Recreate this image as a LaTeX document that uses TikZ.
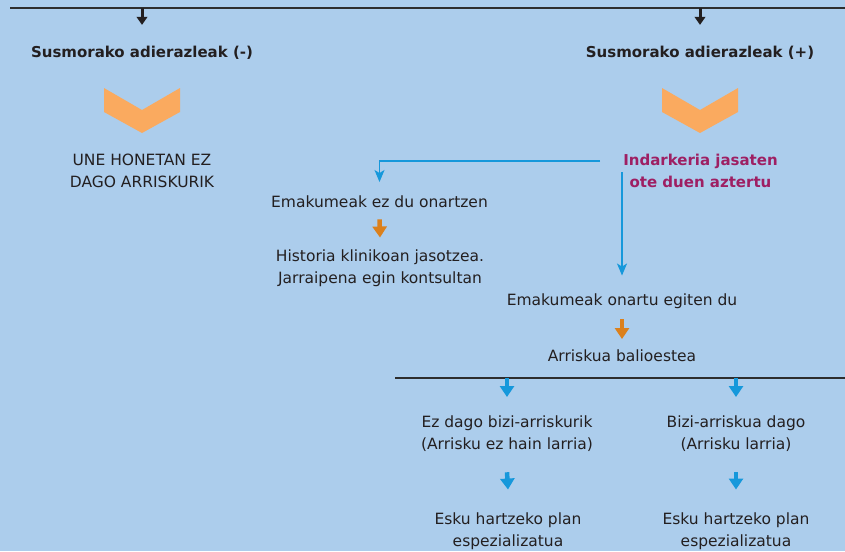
\documentclass[tikz,border=0pt]{standalone}
\usepackage{fontspec}
\setmainfont{DejaVu Sans}
\usepackage{xcolor}
\usepackage{tikz}
\usetikzlibrary{arrows.meta,positioning}

\definecolor{bgblue}{RGB}{172,205,236}
\definecolor{ink}{RGB}{35,31,32}
\definecolor{chevorange}{RGB}{250,170,95}
\definecolor{arrorange}{RGB}{219,128,28}
\definecolor{arrblue}{RGB}{22,152,219}
\definecolor{plum}{RGB}{158,31,99}
\definecolor{rulegray}{RGB}{45,45,45}

\tikzset{
  txt/.style={font=\fontsize{15.5}{22}\selectfont, text=ink, align=center, inner sep=0pt, anchor=base},
  head/.style={txt, font=\fontsize{15}{22}\selectfont\bfseries},
  ask/.style={head, text=plum},
  blk/.style={line width=4.5pt, -{Triangle[width=14pt,length=11pt]}},
  topblk/.style={draw=ink, line width=3pt, -{Triangle[width=10.5pt,length=8pt]}},
  conn/.style={draw=arrblue, line width=1.4pt, -{Stealth[width=10pt,length=12pt,inset=3pt]}},
  chev/.style={fill=chevorange},
  rulel/.style={draw=rulegray, line width=1.5pt}
}

\begin{document}
\begin{tikzpicture}[x=1pt, y=-1pt]
    \fill[bgblue] (0,0) rectangle (845,551);
    \useasboundingbox (0,0) rectangle (845,551);

    % split lines
    \coordinate (topL) at (10,8);
    \coordinate (topR) at (845,8);
    \coordinate (splitL) at (395,378);
    \coordinate (splitR) at (845,378);
    \draw[rulel] (topL) -- (topR);
    \draw[rulel] (splitL) -- (splitR);

    % the two indicator branches (two-line nodes sit on their last baseline)
    \node[head] (negHead) at (142,58) {Susmorako adierazleak (-)};
    \node[head] (posHead) at (700,58) {Susmorako adierazleak (+)};

    \foreach \cx in {142,700} {
        \fill[chev] (\cx-38,88) -- (\cx,110) -- (\cx+38,88) -- (\cx+38,112) -- (\cx,133) -- (\cx-38,112) -- cycle;
    };

    \node[txt] (noRisk) at (142,187.5) {UNE HONETAN EZ\\DAGO ARRISKURIK};
    \node[ask] (check) at (700.5,187) {Indarkeria jasaten\\ote duen aztertu};

    % woman does not accept
    \node[txt] (refuse) at (379.5,207) {Emakumeak ez du onartzen};
    \node[txt] (record) at (380,283.5) {Historia klinikoan jasotzea.\\Jarraipena egin kontsultan};

    % woman accepts
    \node[txt] (accept) at (622,305.5) {Emakumeak onartu egiten du};
    \node[txt] (assess) at (622,361) {Arriskua balioestea};

    \node[txt] (lowRisk) at (507,449) {Ez dago bizi-arriskurik\\(Arrisku ez hain larria)};
    \node[txt] (highRisk) at (736,449) {Bizi-arriskua dago\\(Arrisku larria)};
    \node[txt] (planLow) at (508,546.5) {Esku hartzeko plan\\espezializatua};
    \node[txt] (planHigh) at (736,546.5) {Esku hartzeko plan\\espezializatua};

    % arrows
    \draw[topblk] (negHead.north |- topL) -- ([yshift=21.5pt]negHead.north);
    \draw[topblk] (posHead.north |- topL) -- ([yshift=21.5pt]posHead.north);

    \coordinate (fork) at (600,161);
    \coordinate (drop) at (622,172);
    \draw[conn] (fork) -| ([yshift=13pt]refuse.north);
    \draw[conn] (drop) -- ([yshift=18pt]accept.north);

    \draw[blk, arrorange] ([yshift=-12pt]refuse.south) -- ([yshift=12pt]record.north);
    \draw[blk, arrorange] ([yshift=-10.5pt]accept.south) -- ([yshift=10pt]assess.north);

    \draw[blk, arrblue] (lowRisk.north |- splitL) -- ([yshift=18pt]lowRisk.north);
    \draw[blk, arrblue] (highRisk.north |- splitL) -- ([yshift=18pt]highRisk.north);
    \draw[blk, arrblue] ([yshift=-21pt]lowRisk.south) -- ([yshift=23pt]planLow.north);
    \draw[blk, arrblue] ([yshift=-21pt]highRisk.south) -- ([yshift=23pt]planHigh.north);
\end{tikzpicture}
\end{document}
